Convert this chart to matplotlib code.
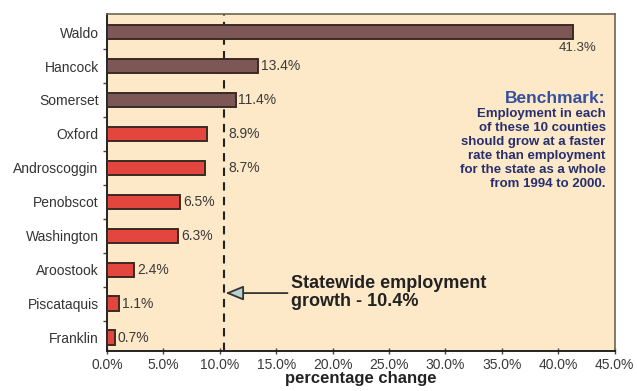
import matplotlib
matplotlib.use("Agg")
import matplotlib.pyplot as plt
import numpy as np

plt.rcParams["font.family"] = ["Liberation Sans", "DejaVu Sans"]

counties = ["Waldo", "Hancock", "Somerset", "Oxford", "Androscoggin",
            "Penobscot", "Washington", "Aroostook", "Piscataquis", "Franklin"]
growth = [41.3, 13.4, 11.4, 8.9, 8.7, 6.5, 6.3, 2.4, 1.1, 0.7]
statewide = 10.4
xticks = [0, 5, 10, 15, 20, 25, 30, 35, 40, 45]

above_color = "#7d5656"
below_color = "#e2463f"
edge_color = "#3a2a22"
panel_bg = "#fde8c8"

fig = plt.figure(figsize=(6.37, 3.91), dpi=100)
fig.patch.set_facecolor("white")
ax = fig.add_axes([0.168, 0.102, 0.797, 0.862])
ax.set_facecolor(panel_bg)

n = len(counties)
ypos = np.arange(n)[::-1]
colors = [above_color if g > statewide else below_color for g in growth]
ax.barh(ypos, growth, height=0.42, color=colors, edgecolor=edge_color,
        linewidth=1.4, zorder=3)

for y, g in zip(ypos, growth):
    label = f"{g:.1f}%"
    if g > 40:
        ax.text(g + 2.1, y - 0.3, label, ha="right", va="top",
                fontsize=9.5, color="#3a3a3a")
    else:
        # keep labels clear of the statewide reference line
        x = g + 0.25
        if g < statewide < g + 3.8:
            x = statewide + 0.35
        ax.text(x, y, label, ha="left", va="center",
                fontsize=10, color="#3a3a3a", zorder=4)

ax.axvline(statewide, color="#222222", linestyle=(0, (4, 3)),
           linewidth=1.5, zorder=2)

ax.set_xlim(0, 45)
ax.set_ylim(-0.4, n - 0.47)
ax.set_xticks(xticks)
ax.set_xticklabels([f"{t:.1f}%" for t in xticks], fontsize=10, color="#3a3a3a")
ax.tick_params(axis="x", direction="inout", length=4, width=1, color="#444444",
               pad=3)
ax.set_yticks(ypos)
ax.set_yticklabels(counties, fontsize=10, color="#333333")
ax.tick_params(axis="y", which="major", length=0, pad=6)
ax.set_yticks(np.arange(n - 1) + 0.5, minor=True)
ax.tick_params(axis="y", which="minor", length=3, width=1, color="#444444")
ax.set_xlabel("percentage change", fontsize=12, fontweight="bold",
              color="#222222", labelpad=-1)

for side in ["left", "bottom"]:
    ax.spines[side].set_color("#222222")
    ax.spines[side].set_linewidth(1.4)
for side in ["top", "right"]:
    ax.spines[side].set_color("#6b6650")
    ax.spines[side].set_linewidth(1.2)

# Benchmark note
ax.text(44.2, 7.05, "Benchmark:", ha="right", va="center", fontsize=12.5,
        fontweight="bold", color="#3550a0")
bench_lines = ["Employment in each", "of these 10 counties",
               "should grow at a faster", "rate than employment",
               "for the state as a whole", "from 1994 to 2000."]
for i, line in enumerate(bench_lines):
    ax.text(44.2, 6.6 - i * 0.413, line, ha="right", va="center",
            fontsize=9.5, fontweight="bold", color="#26306e")

# Statewide pointer
ax.annotate("", xy=(statewide + 0.1, 1.31), xytext=(16.0, 1.31),
            arrowprops=dict(arrowstyle="-|>,head_length=1.1,head_width=0.45",
                            facecolor="#b8d0d0", edgecolor="#333333",
                            linewidth=1.3, shrinkA=0, shrinkB=0), zorder=5)
ax.text(16.3, 1.32, "Statewide employment\ngrowth - 10.4%", ha="left",
        va="center", fontsize=13, fontweight="bold", color="#222222",
        linespacing=1.1)

fig.savefig("out.png", dpi=100, facecolor=fig.get_facecolor())
